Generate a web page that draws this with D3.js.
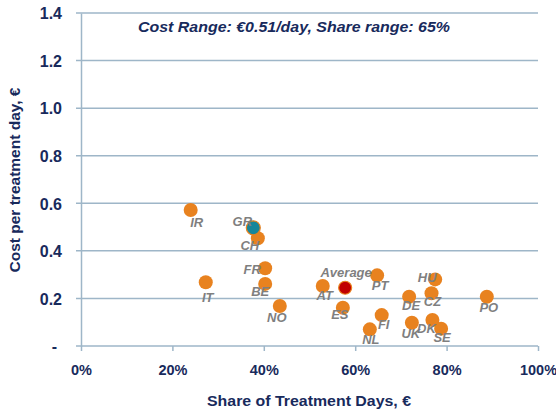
<!DOCTYPE html>
<html>
<head>
<meta charset="utf-8">
<script src="https://cdn.jsdelivr.net/npm/d3@7"></script>
<style>
  body { margin: 0; background: #fff; }
  svg { display: block; font-family: "Liberation Sans", Arial, sans-serif; }
</style>
</head>
<body>
<script>
// values
const countries = ["IR", "GR", "CH", "FR", "BE", "IT", "NO", "AT", "Average", "ES",
                   "PT", "NL", "FI", "DE", "UK", "HU", "CZ", "DK", "SE", "PO"]
const shareDays = [0.24, 0.377, 0.387, 0.403, 0.403, 0.273, 0.435, 0.529, 0.578, 0.573,
                   0.648, 0.632, 0.658, 0.718, 0.724, 0.775, 0.767, 0.769, 0.788, 0.888]
const costPerDay = [0.572, 0.497, 0.453, 0.327, 0.261, 0.268, 0.168, 0.252, 0.245, 0.161,
                    0.297, 0.07, 0.13, 0.207, 0.098, 0.28, 0.222, 0.109, 0.073, 0.207]
const xTicks = [0, 0.2, 0.4, 0.6, 0.8, 1]
const yTicks = [0, 0.2, 0.4, 0.6, 0.8, 1.0, 1.2, 1.4]
const note = "Cost Range: \u20ac0.51/day, Share range: 65%"

// where each country label sits relative to its dot
const labelOffset = {
    IR: [6, 13], GR: [-11, -6], CH: [-8, 7], FR: [-13, 1], BE: [-5, 8], IT: [2, 15],
    NO: [-3, 11], AT: [2, 9], Average: [1, -15], ES: [-3, 7], PT: [3, 10], NL: [1, 10],
    FI: [2, 9], DE: [2, 9], UK: [-1, 11], HU: [-8, -2], CZ: [1, 8], DK: [-6, 8],
    SE: [1, 9], PO: [2, 11]
}

const navy = '#182a5c'
const gridColor = '#9eb6c8'

const svg = d3.select('body')
    .append('svg')
    .attr('width', 556)
    .attr('height', 412)

const x = d3.scaleLinear().domain([0, 1]).range([81, 538])
const y = d3.scaleLinear().domain([0, 1.4]).range([346, 13])

// horizontal grid lines (also the x axis line at 0)
svg.append('g')
    .selectAll('line')
    .data(yTicks)
    .enter()
    .append('line')
    .attr('x1', x(0) - 5)
    .attr('x2', x(1))
    .attr('y1', (d) => y(d))
    .attr('y2', (d) => y(d))
    .attr('stroke', gridColor)
    .attr('stroke-width', 1.5)

// y axis
const yAxis = svg.append('g')
    .attr('transform', `translate(${x(0)},0)`)
    .call(d3.axisLeft(y)
        .tickValues(yTicks)
        .tickSize(0)
        .tickPadding(19)
        .tickFormat((d) => d === 0 ? '-' : d3.format('.1f')(d)))
yAxis.select('.domain').attr('stroke', gridColor).attr('stroke-width', 1.5)
yAxis.selectAll('text')
    .attr('fill', navy)
    .style('font-size', '16px')
    .style('font-weight', 'bold')
    .attr('dy', '0.36em')
yAxis.selectAll('.tick')
    .filter((d) => d === 0)
    .select('text')
    .attr('dx', -5)

// x axis
const xAxis = svg.append('g')
    .attr('transform', `translate(0,${y(0)})`)
    .call(d3.axisBottom(x)
        .tickValues(xTicks)
        .tickSize(5)
        .tickPadding(14)
        .tickFormat(d3.format('.0%')))
xAxis.select('.domain').remove()
xAxis.selectAll('line').attr('stroke', gridColor).attr('stroke-width', 1.5)
xAxis.selectAll('text')
    .attr('fill', navy)
    .style('font-size', '14.5px')
    .style('font-weight', 'bold')

// axis titles
svg.append('text')
    .attr('x', 309)
    .attr('y', 406)
    .attr('text-anchor', 'middle')
    .attr('fill', navy)
    .attr('textLength', 204)
    .attr('lengthAdjust', 'spacingAndGlyphs')
    .style('font-size', '14px')
    .style('font-weight', 'bold')
    .text('Share of Treatment Days, \u20ac')

svg.append('text')
    .attr('transform', 'translate(20,180) rotate(-90)')
    .attr('text-anchor', 'middle')
    .attr('fill', navy)
    .attr('textLength', 185)
    .attr('lengthAdjust', 'spacingAndGlyphs')
    .style('font-size', '14px')
    .style('font-weight', 'bold')
    .text('Cost per treatment day, \u20ac')

// note at top
svg.append('text')
    .attr('x', 294)
    .attr('y', 32)
    .attr('text-anchor', 'middle')
    .attr('fill', navy)
    .attr('textLength', 312)
    .attr('lengthAdjust', 'spacingAndGlyphs')
    .style('font-size', '15px')
    .style('font-weight', 'bold')
    .style('font-style', 'italic')
    .text(note)

const points = countries.map((c, i) => ({ name: c, share: shareDays[i], cost: costPerDay[i] }))
const fillOf = (name) => name === 'Average' ? '#c00000' : name === 'GR' ? '#17869a' : '#e8821f'
const rank = (name) => name === 'Average' || name === 'GR' ? 1 : 0

// dots, highlighted ones drawn last
svg.append('g')
    .selectAll('circle')
    .data(points.slice().sort((a, b) => rank(a.name) - rank(b.name)))
    .enter()
    .append('circle')
    .attr('cx', (d) => x(d.share))
    .attr('cy', (d) => y(d.cost))
    .attr('r', (d) => d.name === 'Average' ? 6.5 : 7)
    .attr('fill', (d) => fillOf(d.name))
    .attr('stroke', (d) => rank(d.name) ? '#e8821f' : 'none')
    .attr('stroke-width', 1.2)

// country labels
svg.append('g')
    .selectAll('text')
    .data(points)
    .enter()
    .append('text')
    .attr('x', (d) => x(d.share) + labelOffset[d.name][0])
    .attr('y', (d) => y(d.cost) + labelOffset[d.name][1])
    .attr('dy', '0.35em')
    .attr('text-anchor', 'middle')
    .attr('fill', '#7f7f7f')
    .style('font-size', '13px')
    .style('font-weight', 'bold')
    .style('font-style', 'italic')
    .text((d) => d.name)
</script>
</body>
</html>
